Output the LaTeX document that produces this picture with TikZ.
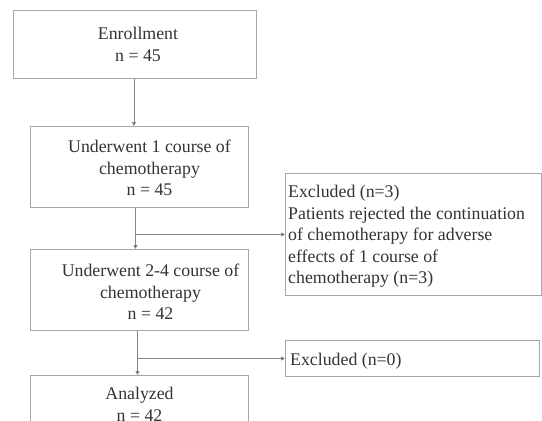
\documentclass[tikz,border=0pt]{standalone}
\usepackage{fontspec}
\setmainfont{Liberation Serif}
\usetikzlibrary{arrows.meta}

\definecolor{boxgray}{HTML}{A6A6A6}
\definecolor{txtgray}{HTML}{333333}

\begin{document}
\begin{tikzpicture}[x=1pt,y=-1pt,
  box/.style={draw=boxgray,line width=1pt,fill=white,anchor=north west,inner sep=0pt},
  txt/.style={text=txtgray,align=center,inner sep=0pt,font=\fontsize{17.8}{21.5}\selectfont},
  ltxt/.style={txt,align=left,anchor=west},
  arr/.style={draw=boxgray!80!black,line width=0.9pt,-{Triangle[length=4pt,width=4pt,fill=black]}},
  seg/.style={draw=boxgray!80!black,line width=0.9pt}]
\useasboundingbox[fill=white] (0,0) rectangle (542,421);
% left column
\node[box,minimum width=243pt,minimum height=68pt] (enroll) at (13,10) {};
\node[txt] (enrolltxt) at ([xshift=3pt]enroll.center) {Enrollment\\n = 45};
\node[box,minimum width=218pt,minimum height=81pt] (course1) at (30,126) {};
\node[txt] (course1txt) at ([xshift=10pt,yshift=-1pt]course1.center) {Underwent 1 course of\\chemotherapy\\n = 45};
\node[box,minimum width=218pt,minimum height=81pt] (course24) at (30,249) {};
\node[txt] (course24txt) at ([xshift=11pt,yshift=-2pt]course24.center) {Underwent 2-4 course of\\chemotherapy\\n = 42};
\node[box,minimum width=218pt,minimum height=56pt] (analyzed) at (30,375) {};
\node[txt] (analyzedtxt) at ([yshift=-1pt]analyzed.center) {Analyzed\\n = 42};
% right column
\node[box,minimum width=256pt,minimum height=122pt] (excl1) at (285,173) {};
\node[ltxt] (excl1txt) at ([xshift=3pt,yshift=-2pt]excl1.west) {Excluded (n=3)\\Patients rejected the continuation\\of chemotherapy for adverse\\effects of 1 course of\\chemotherapy (n=3)};
\node[box,minimum width=254pt,minimum height=36pt] (excl2) at (285,340) {};
\node[ltxt] (excl2txt) at ([xshift=5pt,yshift=-3pt]excl2.west) {Excluded (n=0)};
% connectors
\coordinate (split1) at ([xshift=-4pt]course1.south |- excl1.west);
\coordinate (split2) at ([xshift=-2pt]course24.south |- excl2.west);
\draw[arr] ([xshift=-1pt]enroll.south) -- ([xshift=-1pt]enroll.south |- course1.north);
\draw[arr] ([xshift=-4pt]course1.south) -- ([xshift=-4pt]course1.south |- course24.north);
\draw[arr] (split1) -- (excl1.west |- split1);
\draw[arr] ([xshift=-2pt]course24.south) -- ([xshift=-2pt]course24.south |- analyzed.north);
\draw[arr] (split2) -- (excl2.west |- split2);
\end{tikzpicture}
\end{document}
